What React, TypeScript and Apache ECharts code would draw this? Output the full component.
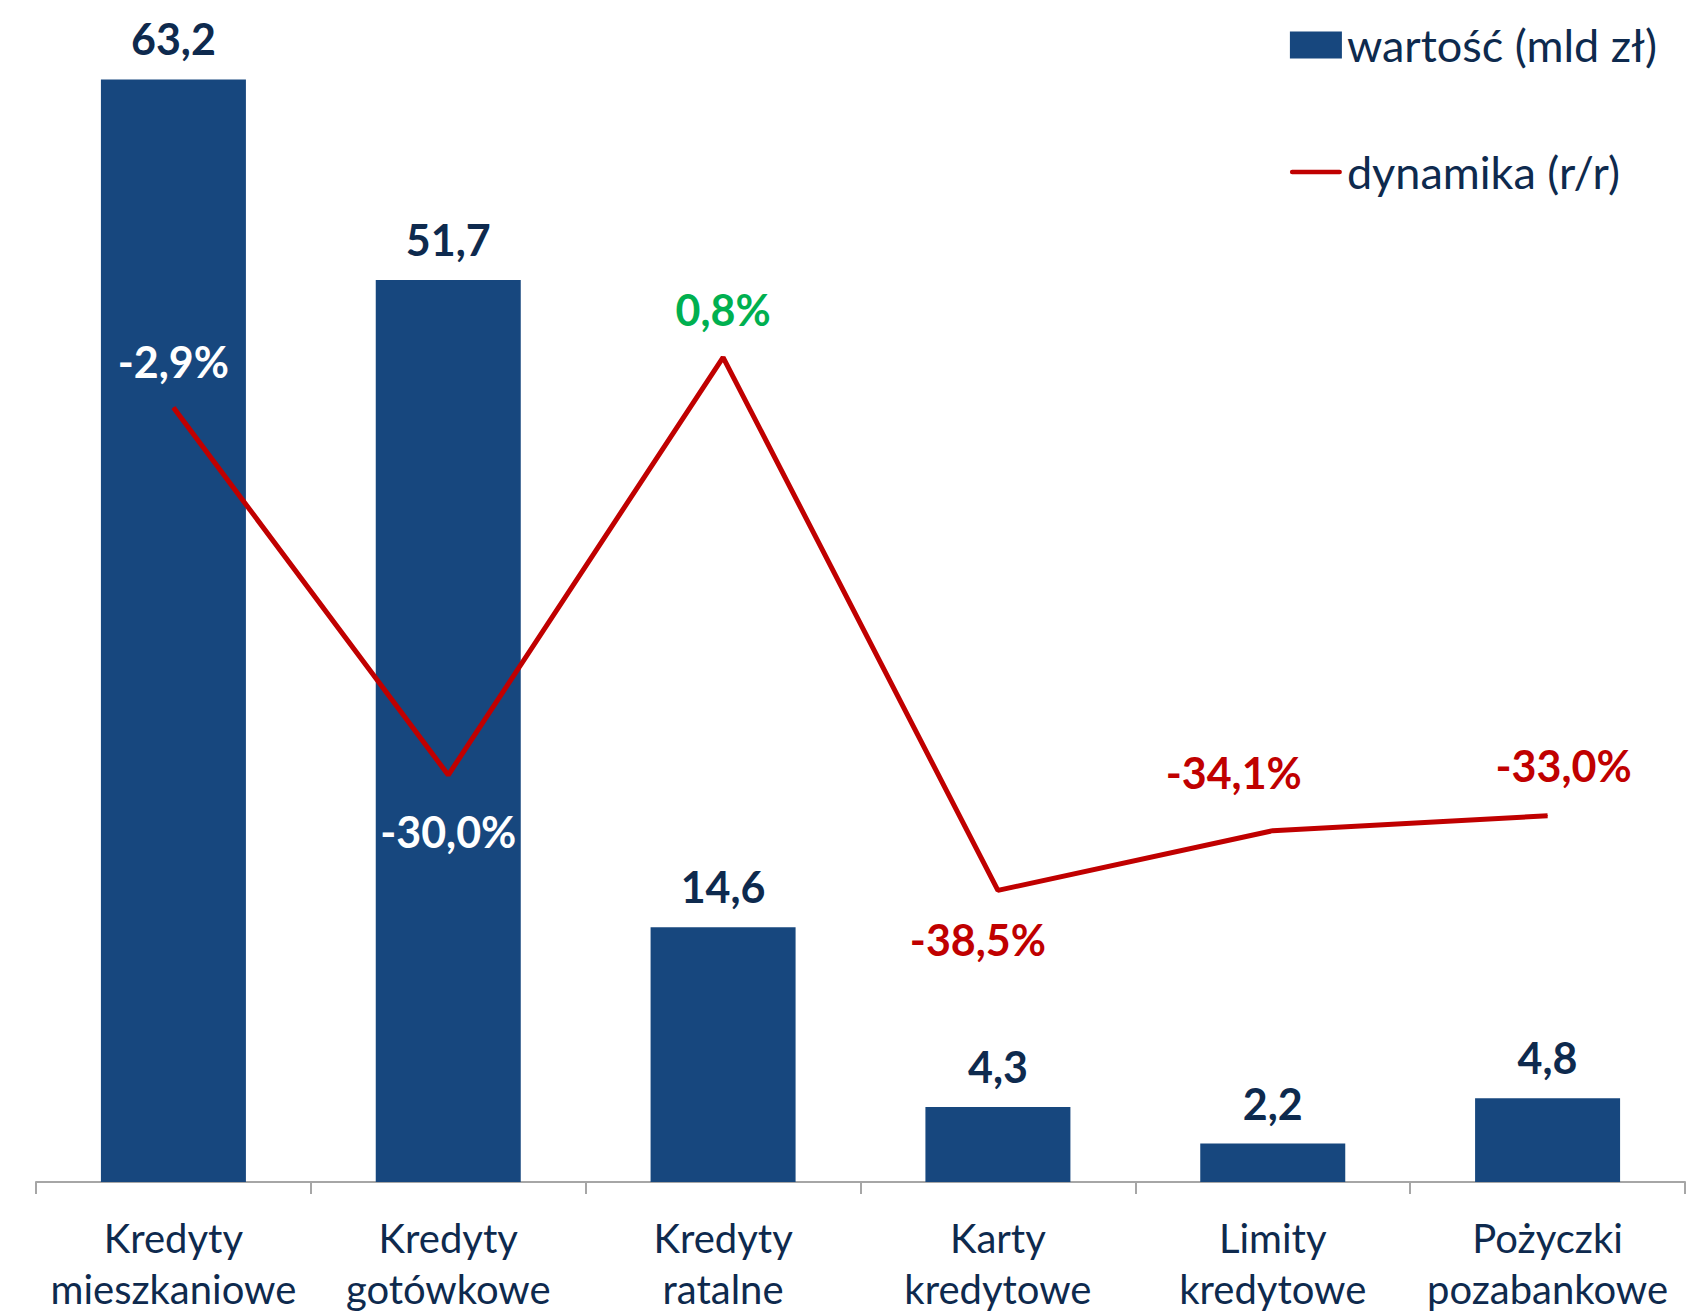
import React, { useEffect, useRef } from "react";
import * as echarts from "echarts";

const categories = [
  "Kredyty\nmieszkaniowe",
  "Kredyty\ngotówkowe",
  "Kredyty\nratalne",
  "Karty\nkredytowe",
  "Limity\nkredytowe",
  "Pożyczki\npozabankowe",
];
const valuesBn = [63.2, 51.7, 14.6, 4.3, 2.2, 4.8];
const dynamicsPct = [-2.9, -30.0, 0.8, -38.5, -34.1, -33.0];
const barName = "wartość (mld zł)";
const lineName = "dynamika (r/r)";

// label styling per line point (colour, nudge)
const lineLabelColors = ["#FFFFFF", "#FFFFFF", "#00B050", "#C00000", "#C00000", "#C00000"];
const lineLabelOffsets: [number, number][] = [
  [0, -46],
  [0, 56],
  [0, -48],
  [-20, 49],
  [-39, -58],
  [16, -50],
];

const FONT = "Lato, 'Open Sans', sans-serif";
const NAVY = "#0E2A4E";

export default function App() {
  const ref = useRef<HTMLDivElement>(null);
  useEffect(() => {
    document.body.style.margin = "0";
    const chart = echarts.init(ref.current!, null, { renderer: "svg" });
    const fmt = (v: number) => v.toFixed(1).replace(".", ",");
    chart.setOption({
      animation: false,
      backgroundColor: "#FFFFFF",
      textStyle: { fontFamily: FONT },
      grid: {
        left: 36,
        right: 22,
        top: 48,
        bottom: 131,
        containLabel: false,
        outerBoundsMode: "none",
      },
      legend: {
        orient: "vertical",
        right: 45,
        top: 13,
        itemWidth: 52,
        itemHeight: 27,
        itemGap: 73,
        textStyle: { fontFamily: FONT, fontSize: 45, lineHeight: 54, color: NAVY },
        data: [
          { name: barName, icon: "rect" },
          { name: lineName, icon: "path://M2,0H54A2,2 0 0 1 54,5H2A2,2 0 0 1 2,0Z" },
        ],
      },
      xAxis: {
        type: "category",
        data: categories,
        axisLine: { lineStyle: { color: "#A6A6A6", width: 2 } },
        axisTick: { show: true, length: 12, lineStyle: { color: "#A6A6A6", width: 2 } },
        axisLabel: {
          fontFamily: FONT,
          fontSize: 40,
          lineHeight: 51,
          color: NAVY,
          margin: 30,
          interval: 0,
        },
      },
      yAxis: [
        { type: "value", min: 0, max: 65, show: false, splitLine: { show: false } },
        { type: "value", min: -60, max: 23.6, show: false, splitLine: { show: false } },
      ],
      series: [
        {
          name: barName,
          type: "bar",
          data: valuesBn,
          barWidth: 145,
          itemStyle: { color: "#17477E" },
          label: {
            show: true,
            position: "top",
            distance: 19,
            fontFamily: FONT,
            fontWeight: "bold",
            fontSize: 43,
            color: NAVY,
            formatter: (p: any) => fmt(p.value),
          },
        },
        {
          name: lineName,
          type: "line",
          yAxisIndex: 1,
          symbol: "circle",
          symbolSize: 1,
          showSymbol: true,
          lineStyle: { color: "#C00000", width: 5 },
          itemStyle: { color: "#C00000" },
          z: 5,
          data: dynamicsPct.map((v, i) => ({
            value: v,
            label: {
              show: true,
              position: "inside",
              offset: lineLabelOffsets[i],
              color: lineLabelColors[i],
              fontFamily: FONT,
              fontWeight: "bold",
              fontSize: 43,
              formatter: () => fmt(v) + "%",
            },
          })),
        },
      ],
    });
    return () => chart.dispose();
  }, []);
  return <div ref={ref} style={{ width: 1707, height: 1313 }} />;
}
